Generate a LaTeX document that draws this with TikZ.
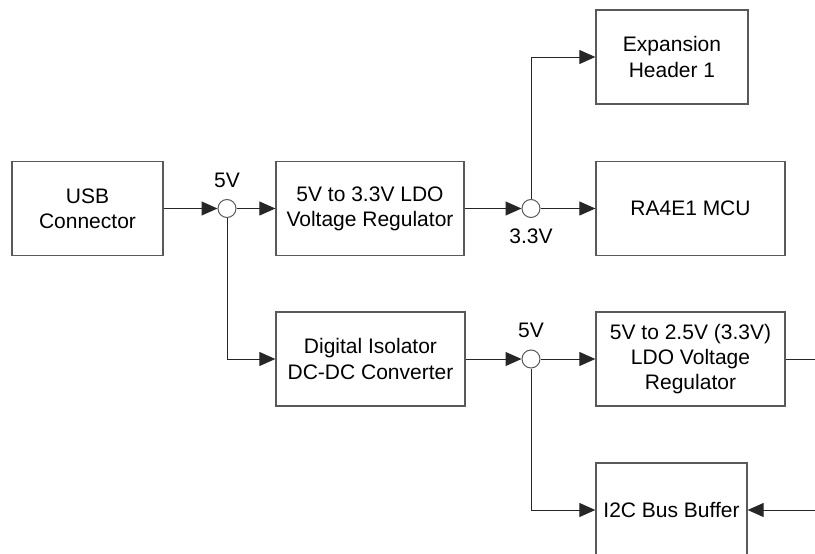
\documentclass[tikz,border=0pt]{standalone}
\usepackage{fontspec}
\setmainfont{Liberation Sans}
\usetikzlibrary{arrows.meta}
\begin{document}
\begin{tikzpicture}[x=1pt,y=-1pt,
  box/.style={draw=black!65, line width=1.3pt, fill=white, minimum height=94pt,
    inner sep=0pt, align=center, font=\fontsize{21}{25.3}\selectfont},
  junc/.style={circle, draw=black!65, line width=1pt, fill=white, minimum size=18pt, inner sep=0pt},
  conn/.style={draw=black!85, line width=1pt, -{Triangle[length=16pt,width=14pt]}},
  wire/.style={draw=black!85, line width=1pt},
  lbl/.style={font=\fontsize{21}{25.3}\selectfont, inner sep=0pt}]
\useasboundingbox (0,0) rectangle (815,554);
\clip (0,0) rectangle (815,554);
\node[box, minimum width=151pt] (usb) at (87.5,208.5) {USB\\Connector};
\node[box, minimum width=188pt] (ldoa) at (370,208.5) {5V to 3.3V LDO\\Voltage Regulator};
\node[box, minimum width=152pt] (exp) at (672,57) {Expansion\\Header 1};
\node[box, minimum width=189pt] (mcu) at (690.5,208.5) {RA4E1 MCU};
\node[box, minimum width=189pt] (iso) at (370.5,359) {Digital Isolator\\DC-DC Converter};
\node[box, minimum width=189pt] (ldob) at (690.5,359) {5V to 2.5V (3.3V)\\LDO Voltage\\Regulator};
\node[box, minimum width=151pt] (i2c) at (671.5,510) {I2C Bus Buffer};
\node[junc] (ja) at (227,208.5) {};
\node[junc] (jb) at (531,208.5) {};
\node[junc] (jc) at (531,359) {};
\node[lbl] (la) at (227,180) {5V};
\node[lbl] (lb) at (531,236) {3.3V};
\node[lbl] (lc) at (531,330) {5V};
\coordinate (ra) at (815,359);
\coordinate (rb) at (815,510);
\draw[conn] (usb.east) -- (ja.west);
\draw[conn] (ja.east) -- (ldoa.west);
\draw[conn] (ja.south) |- (iso.west);
\draw[conn] (ldoa.east) -- (jb.west);
\draw[conn] (jb.east) -- (mcu.west);
\draw[conn] (jb.north) |- (exp.west);
\draw[conn] (iso.east) -- (jc.west);
\draw[conn] (jc.east) -- (ldob.west);
\draw[conn] (jc.south) |- (i2c.west);
\draw[wire] (ldob.east) -- (ra);
\draw[conn] (rb) -- (i2c.east);
\end{tikzpicture}
\end{document}
